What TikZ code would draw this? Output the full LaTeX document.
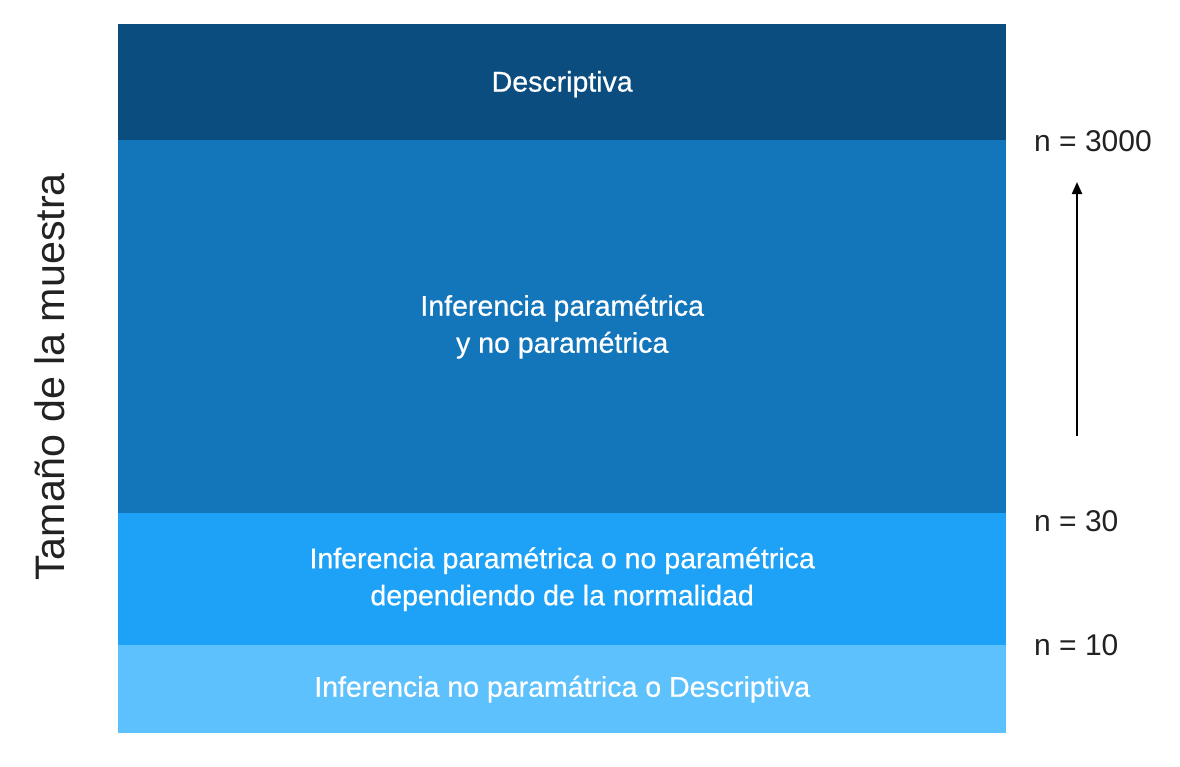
\documentclass[tikz,border=0pt]{standalone}
\usepackage{fontspec}
\setmainfont{Liberation Sans}
\newfontfamily\bandfont[FakeBold=0.6]{Liberation Sans}
\usetikzlibrary{arrows.meta}
\definecolor{bandA}{HTML}{0B4D7E}
\definecolor{bandB}{HTML}{1375BA}
\definecolor{bandC}{HTML}{1EA2F8}
\definecolor{bandD}{HTML}{5CC1FC}
\definecolor{labtext}{HTML}{222222}
\tikzset{
  band/.style={fill=#1, draw=none, inner sep=0pt, minimum width=888pt, anchor=north west},
  bandtext/.style={text=white, font=\bandfont\fontsize{28.5}{37}\selectfont, align=center},
  nlabel/.style={text=labtext, font=\fontsize{30}{36}\selectfont, anchor=west, inner sep=0pt},
}
\begin{document}
\begin{tikzpicture}[x=1pt,y=-1pt]
\useasboundingbox (0,0) rectangle (1180,766);
\node[band=bandA, minimum height=116pt] (b1) at (118,24) {};
\node[band=bandB, minimum height=373pt] (b2) at (118,140) {};
\node[band=bandC, minimum height=132pt] (b3) at (118,513) {};
\node[band=bandD, minimum height=88pt] (b4) at (118,645) {};
\node[bandtext] (t1) at ([yshift=-2pt]b1.center) {Descriptiva};
\node[bandtext] (t2) at (b2.center) {Inferencia paramétrica\\y no paramétrica};
\node[bandtext] (t3) at (b3.center) {Inferencia paramétrica o no paramétrica\\dependiendo de la normalidad};
\node[bandtext] (t4) at (b4.center) {Inferencia no paramátrica o Descriptiva};
\node[nlabel] (n1) at (1034,141) {n = 3000};
\node[nlabel] (n2) at (1034,521) {n = 30};
\node[nlabel] (n3) at (1034,645) {n = 10};
\node[text=labtext, font=\fontsize{41.2}{48}\selectfont, rotate=90] (yl) at (50,377) {Tamaño de la muestra};
\coordinate (a0) at (1077,436);
\coordinate (a1) at (1077,182);
\draw[line width=2.2pt, -{Triangle[length=12pt,width=10pt]}] (a0) -- (a1);
\end{tikzpicture}
\end{document}
